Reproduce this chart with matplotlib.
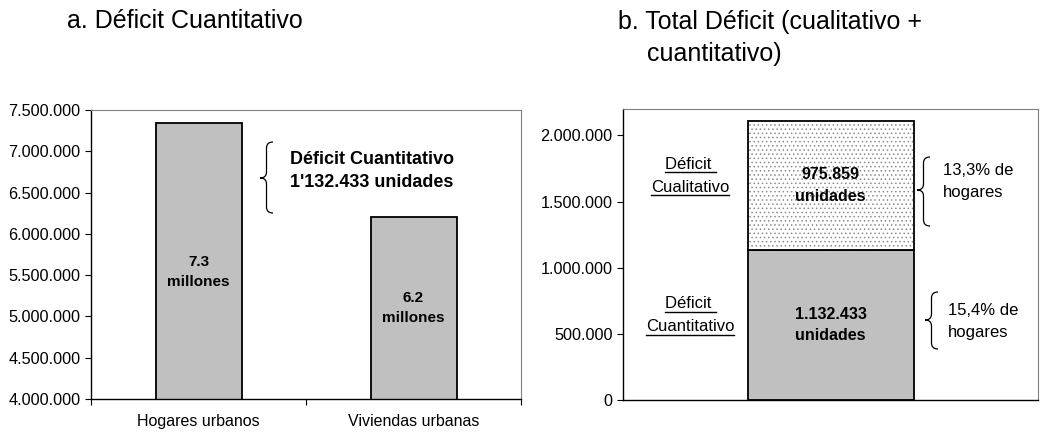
import matplotlib
matplotlib.use("Agg")
import matplotlib.pyplot as plt
from matplotlib.path import Path
from matplotlib.patches import PathPatch
from matplotlib.lines import Line2D
from matplotlib.ticker import FuncFormatter
import numpy as np

plt.rcParams["font.family"] = ["Liberation Sans", "DejaVu Sans"]
plt.rcParams["hatch.linewidth"] = 0.6
plt.rcParams["hatch.color"] = "#8c8c8c"

W, H = 1064, 432

# Panel a: hogares vs viviendas urbanas
cat_a = ["Hogares urbanos", "Viviendas urbanas"]
val_a = [7338000, 6205567]
lab_a = ["7.3\nmillones", "6.2\nmillones"]
lab_a_y = [5540000, 5100000]

# Panel b: stacked deficit (cuantitativo abajo, cualitativo arriba)
seg_b = [1132433, 975859]
lab_b = ["1.132.433\nunidades", "975.859\nunidades"]
side_b = [["Déficit ", "Cuantitativo"], ["Déficit ", "Cualitativo"]]
pct_b = ["15,4% de\nhogares", "13,3% de\nhogares"]


def miles(v, pos):
    return f"{int(round(v)):,}".replace(",", ".")


def fig_xy(x, y):
    # image pixels (top-left origin) -> figure fraction
    return x / W, 1 - y / H


def brace(fig, x_tip, x_end, y_top, y_bot, y_mid):
    xm = (x_tip + x_end) / 2
    r = 6
    pts = [
        (x_end, y_top), (xm, y_top), (xm, y_top + r),
        (xm, y_mid - r), (xm, y_mid), (x_tip, y_mid),
        (xm, y_mid), (xm, y_mid + r),
        (xm, y_bot - r), (xm, y_bot), (x_end, y_bot),
    ]
    codes = [Path.MOVETO, Path.CURVE3, Path.CURVE3,
             Path.LINETO, Path.CURVE3, Path.CURVE3,
             Path.CURVE3, Path.CURVE3,
             Path.LINETO, Path.CURVE3, Path.CURVE3]
    verts = [fig_xy(x, y) for x, y in pts]
    fig.patches.append(PathPatch(Path(verts, codes), transform=fig.transFigure,
                                 fill=False, lw=0.9, edgecolor="black"))


fig = plt.figure(figsize=(W / 100, H / 100), dpi=100)
ax1 = fig.add_axes([91 / W, 1 - 399 / H, 430 / W, 289 / H])
ax2 = fig.add_axes([623 / W, 1 - 400 / H, 415 / W, 291 / H])

# ---- panel a
x_a = np.arange(len(cat_a))
ax1.bar(x_a, val_a, width=0.4, color="#c0c0c0", edgecolor="black", linewidth=1.3)
ax1.set_xlim(-0.5, 1.5)
ax1.set_ylim(4000000, 7500000)
ax1.set_yticks(np.arange(4000000, 7500001, 500000))
ax1.yaxis.set_major_formatter(FuncFormatter(miles))
ax1.set_xticks([-0.5, 0.5, 1.5])
ax1.set_xticklabels([])
ax1.set_xticks(x_a, minor=True)
ax1.set_xticklabels(cat_a, minor=True, fontsize=11.5)
ax1.tick_params(axis="x", which="minor", length=0, pad=11)
ax1.tick_params(axis="x", which="major", length=4, direction="out")
ax1.tick_params(axis="y", length=4, labelsize=11.7)
for i, v in enumerate(val_a):
    ax1.text(x_a[i], lab_a_y[i], lab_a[i], ha="center",
             va="center", fontsize=11, fontweight="bold", linespacing=1.6)

# ---- panel b
ax2.bar(0, seg_b[0], width=0.4, color="#c0c0c0", edgecolor="black", linewidth=1.3)
ax2.bar(0, seg_b[1], bottom=seg_b[0], width=0.4, color="white",
        edgecolor="#8c8c8c", hatch="....", linewidth=0)
ax2.bar(0, seg_b[1], bottom=seg_b[0], width=0.4, fill=False,
        edgecolor="black", linewidth=1.3)
ax2.set_xlim(-0.5, 0.5)
ax2.set_ylim(0, 2200000)
ax2.set_yticks(np.arange(0, 2000001, 500000))
ax2.yaxis.set_major_formatter(FuncFormatter(miles))
ax2.set_xticks([])
ax2.tick_params(axis="y", length=4, labelsize=11.7)

bottoms = [0, seg_b[0]]
side_texts = []
for i, seg in enumerate(seg_b):
    mid = bottoms[i] + seg / 2
    ax2.text(0, mid, lab_b[i], ha="center", va="center", fontsize=11.5,
             fontweight="bold", linespacing=1.55)
    for k, line in enumerate(side_b[i]):
        t = ax2.annotate(line, xy=(-0.338, mid + 75000), xycoords="data",
                         xytext=(0, 8.3 - 16.6 * k), textcoords="offset points",
                         ha="center", va="center", fontsize=12)
        side_texts.append(t)
    ax2.annotate(pct_b[i], xy=(0.27 + 0.012 * (1 - i), mid + 30000),
                 xycoords="data", ha="left", va="center", fontsize=12,
                 linespacing=1.6)

for ax in (ax1, ax2):
    ax.spines["top"].set_color("#808080")
    ax.spines["right"].set_color("#808080")
    ax.spines["left"].set_linewidth(1.0)
    ax.spines["bottom"].set_linewidth(1.0)

# braces
brace(fig, 260, 273, 142, 213, 178)
brace(fig, 917, 930, 157, 226, 190)
brace(fig, 925, 938, 292, 349, 320)

fig.text(290 / W, 1 - 171 / H, "Déficit Cuantitativo\n1'132.433 unidades",
         ha="left", va="center", fontsize=13, fontweight="bold", linespacing=1.52)

# titles
fig.text(67 / W, 1 - 21 / H, "a. Déficit Cuantitativo", ha="left", va="center",
         fontsize=18)
fig.text(618 / W, 1 - 22 / H, "b. Total Déficit (cualitativo +", ha="left",
         va="center", fontsize=18)
fig.text(647 / W, 1 - 54 / H, "cuantitativo)", ha="left", va="center",
         fontsize=18)

# underline the side labels of panel b
fig.canvas.draw()
rend = fig.canvas.get_renderer()
inv = fig.transFigure.inverted()
for t in side_texts:
    bb = t.get_window_extent(rend)
    yc = (bb.y0 + bb.y1) / 2 - 8
    (fx0, fy), (fx1, _) = inv.transform([(bb.x0, yc), (bb.x1, yc)])
    fig.lines.append(Line2D([fx0, fx1], [fy, fy], transform=fig.transFigure,
                            color="black", lw=1.0))

fig.savefig("out.png", dpi=100)
